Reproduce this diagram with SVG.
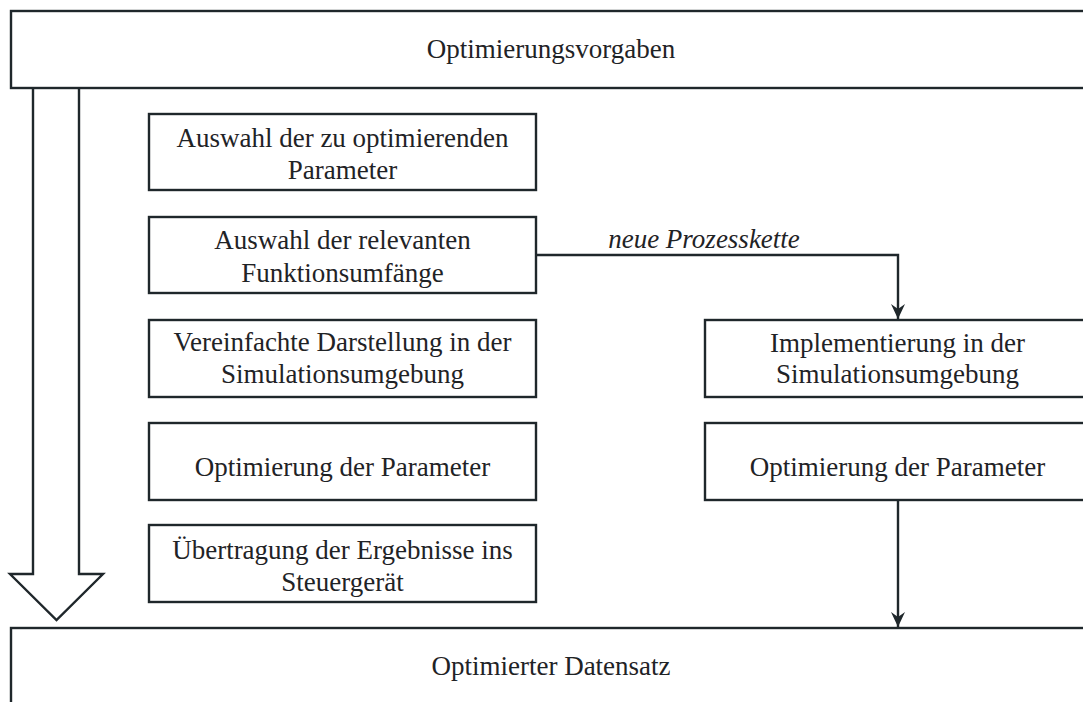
<svg xmlns="http://www.w3.org/2000/svg" width="1083" height="702" viewBox="0 0 1083 702">
  <style>
    .box { fill: #ffffff; stroke: #1f272b; stroke-width: 2.4; }
    .t { font-family: "Liberation Serif", "Times New Roman", serif; font-size: 27px; fill: #1f2326; text-anchor: middle; }
    .ti { font-family: "Liberation Serif", "Times New Roman", serif; font-size: 27px; font-style: italic; fill: #1f2326; text-anchor: middle; }
    .conn { fill: none; stroke: #1f272b; stroke-width: 2.4; }
  </style>
  <defs>
    <marker id="arr" markerUnits="userSpaceOnUse" markerWidth="18" markerHeight="16" refX="16" refY="8" orient="auto" viewBox="0 0 18 16">
      <path d="M16,8 L1,1 L6,8 L1,15 Z" fill="#1f272b"/>
    </marker>
  </defs>
  <rect width="1083" height="702" fill="#ffffff"/>

  <g id="optimierungsvorgaben">
    <rect class="box" x="11" y="11" width="1085" height="77"/>
    <text class="t" x="551" y="58">Optimierungsvorgaben</text>
  </g>

  <g id="optimierter-datensatz">
    <rect class="box" x="11" y="628" width="1085" height="90"/>
    <text class="t" x="551" y="675">Optimierter Datensatz</text>
  </g>

  <g id="hollow-arrow">
    <path class="conn" d="M33,88 V574 H10 L56.5,620 L103,574 H79 V88"/>
  </g>

  <g id="box-auswahl-parameter">
    <rect class="box" x="149" y="114" width="387" height="76"/>
    <text class="t" x="342.5" y="146.5">Auswahl der zu optimierenden</text>
    <text class="t" x="342.5" y="179">Parameter</text>
  </g>

  <g id="box-auswahl-funktionsumfaenge">
    <rect class="box" x="149" y="217" width="387" height="76"/>
    <text class="t" x="342.5" y="249">Auswahl der relevanten</text>
    <text class="t" x="342.5" y="282">Funktionsumfänge</text>
  </g>

  <g id="box-vereinfachte-darstellung">
    <rect class="box" x="149" y="320" width="387" height="77"/>
    <text class="t" x="342.5" y="351">Vereinfachte Darstellung in der</text>
    <text class="t" x="342.5" y="383">Simulationsumgebung</text>
  </g>

  <g id="box-optimierung-links">
    <rect class="box" x="149" y="423" width="387" height="77"/>
    <text class="t" x="342.5" y="476">Optimierung der Parameter</text>
  </g>

  <g id="box-uebertragung">
    <rect class="box" x="149" y="525" width="387" height="77"/>
    <text class="t" x="342.5" y="559">Übertragung der Ergebnisse ins</text>
    <text class="t" x="342.5" y="591">Steuergerät</text>
  </g>

  <g id="box-implementierung">
    <rect class="box" x="705" y="320" width="385" height="77"/>
    <text class="t" x="897.5" y="352">Implementierung in der</text>
    <text class="t" x="897.5" y="383">Simulationsumgebung</text>
  </g>

  <g id="box-optimierung-rechts">
    <rect class="box" x="705" y="423" width="385" height="77"/>
    <text class="t" x="897.5" y="476">Optimierung der Parameter</text>
  </g>

  <g id="connectors">
    <path class="conn" d="M536,255 H898 V319" marker-end="url(#arr)"/>
    <text class="ti" x="704" y="248">neue Prozesskette</text>
    <path class="conn" d="M898,500 V627" marker-end="url(#arr)"/>
  </g>
</svg>
